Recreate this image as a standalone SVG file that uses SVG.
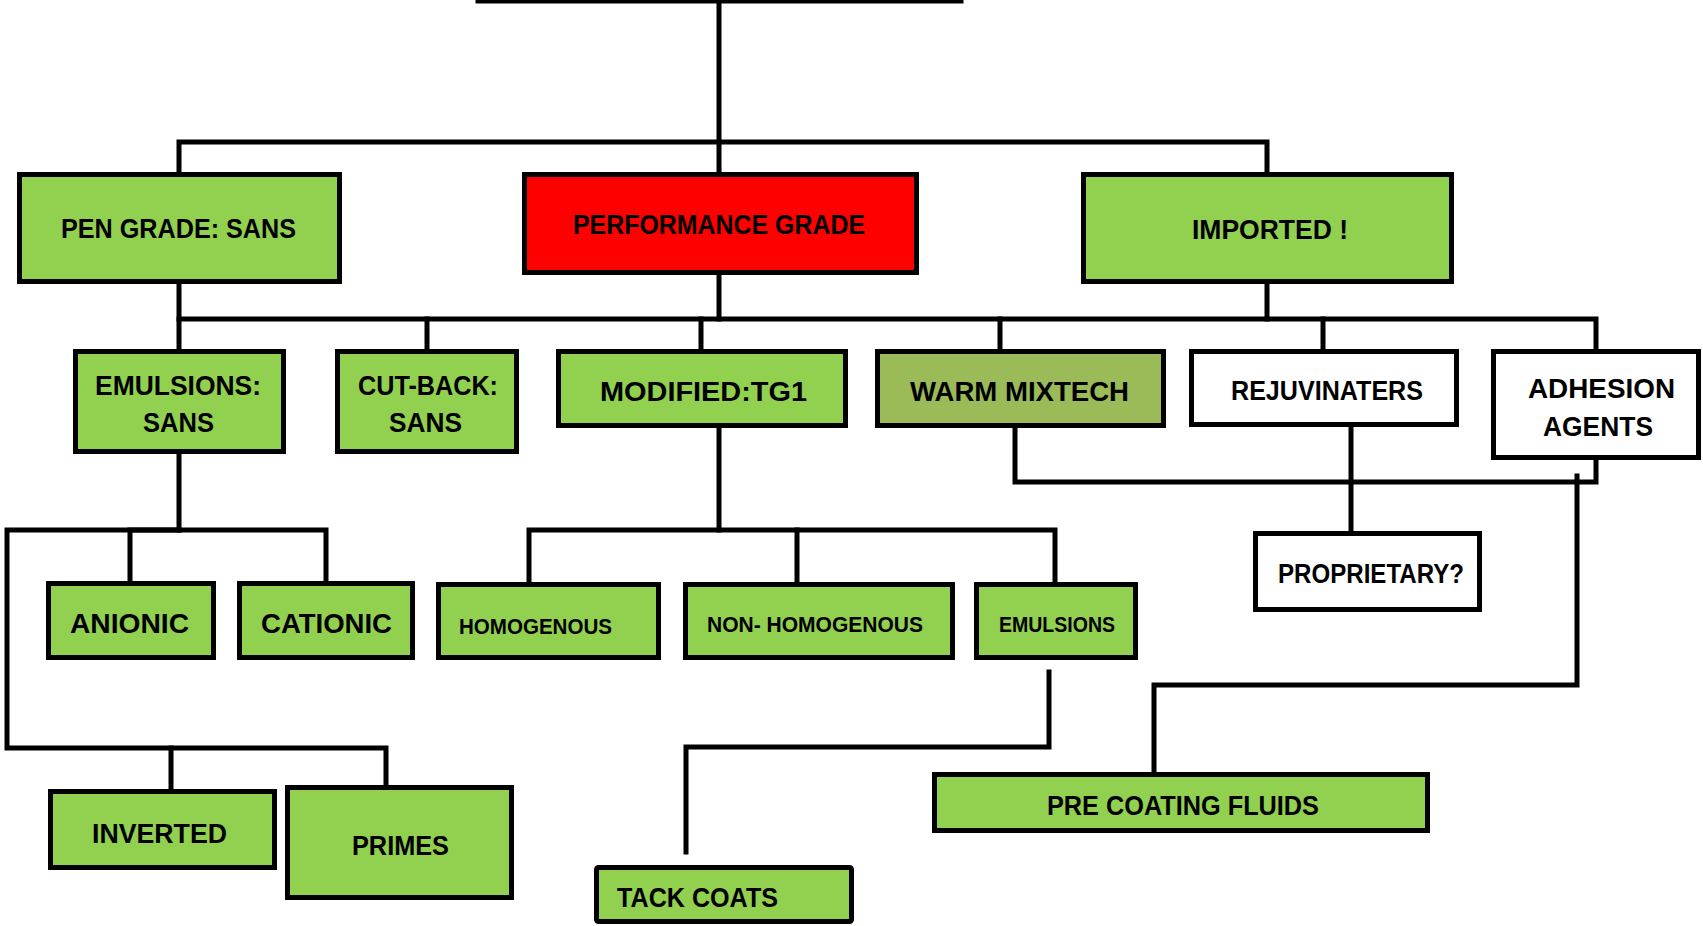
<svg xmlns="http://www.w3.org/2000/svg" width="1703" height="926" viewBox="0 0 1703 926">
<style>
.b{stroke:#000;stroke-width:5}
.g{fill:#92D050}
.r{fill:#FF0000}
.w{fill:#FFFFFF}
.o{fill:#9BBB59}
.t{font-family:"Liberation Sans",Arial,sans-serif;font-weight:bold;fill:#000;font-size:27px}
.s{font-size:22px}
.c{fill:none;stroke:#000;stroke-width:5;stroke-linecap:square}
</style>
<rect width="1703" height="926" fill="#fff"/>
<g id="connectors">
<path class="c" d="M478 1H961"/>
<path class="c" d="M719 1V172"/>
<path class="c" d="M179 172V142H1267V172"/>
<path class="c" d="M719 275V319"/>
<path class="c" d="M1267 284V319"/>
<path class="c" d="M179 284V349"/>
<path class="c" d="M179 319H1596V349"/>
<path class="c" d="M427 319V349"/>
<path class="c" d="M701 319V349"/>
<path class="c" d="M1000 319V349"/>
<path class="c" d="M1323 319V349"/>
<path class="c" d="M179 454V530"/>
<path class="c" d="M130 581V530H326V581"/>
<path class="c" d="M179 530H7V748H386V786"/>
<path class="c" d="M171 748V789"/>
<path class="c" d="M719 428V530"/>
<path class="c" d="M529 582V530H1055V582"/>
<path class="c" d="M797 530V582"/>
<path class="c" d="M1049 672V747H686V852"/>
<path class="c" d="M1015 428V482H1596V460"/>
<path class="c" d="M1351 427V531"/>
<path class="c" d="M1577 476V685H1154V772"/>
</g>
<g id="n-pen"><rect class="b g" x="19.5" y="174.5" width="320" height="107"/><text class="t" x="61" y="238" font-size="28" textLength="235" lengthAdjust="spacingAndGlyphs">PEN GRADE: SANS</text></g>
<g id="n-perf"><rect class="b r" x="524.5" y="174.5" width="392" height="98"/><text class="t" x="573" y="234" font-size="28" textLength="292" lengthAdjust="spacingAndGlyphs">PERFORMANCE GRADE</text></g>
<g id="n-imported"><rect class="b g" x="1083.5" y="174.5" width="368" height="107"/><text class="t" x="1192" y="239" font-size="28" textLength="156" lengthAdjust="spacingAndGlyphs">IMPORTED !</text></g>
<g id="n-emulsions-sans"><rect class="b g" x="75.5" y="351.5" width="208" height="100"/><text class="t" x="95" y="395" textLength="166" lengthAdjust="spacingAndGlyphs">EMULSIONS:</text><text class="t" x="143" y="432" textLength="71" lengthAdjust="spacingAndGlyphs">SANS</text></g>
<g id="n-cutback"><rect class="b g" x="337.5" y="351.5" width="179" height="100"/><text class="t" x="358" y="395" textLength="140" lengthAdjust="spacingAndGlyphs">CUT-BACK:</text><text class="t" x="389" y="432" textLength="73" lengthAdjust="spacingAndGlyphs">SANS</text></g>
<g id="n-modified"><rect class="b g" x="558.5" y="351.5" width="287" height="74"/><text class="t" x="600" y="401" textLength="207" lengthAdjust="spacingAndGlyphs">MODIFIED:TG1</text></g>
<g id="n-warm"><rect class="b o" x="877.5" y="351.5" width="286" height="74"/><text class="t" x="910" y="401" textLength="219" lengthAdjust="spacingAndGlyphs">WARM MIXTECH</text></g>
<g id="n-rejuv"><rect class="b w" x="1191.5" y="351.5" width="265" height="73"/><text class="t" x="1231" y="400" font-size="26" textLength="192" lengthAdjust="spacingAndGlyphs">REJUVINATERS</text></g>
<g id="n-adhesion"><rect class="b w" x="1493.5" y="351.5" width="205" height="106"/><text class="t" x="1528" y="398" textLength="147" lengthAdjust="spacingAndGlyphs">ADHESION</text><text class="t" x="1543" y="436" textLength="110" lengthAdjust="spacingAndGlyphs">AGENTS</text></g>
<g id="n-anionic"><rect class="b g" x="48.5" y="583.5" width="165" height="74"/><text class="t" x="70" y="633" textLength="119" lengthAdjust="spacingAndGlyphs">ANIONIC</text></g>
<g id="n-cationic"><rect class="b g" x="239.5" y="583.5" width="173" height="74"/><text class="t" x="261" y="633" textLength="131" lengthAdjust="spacingAndGlyphs">CATIONIC</text></g>
<g id="n-homog"><rect class="b g" x="438.5" y="584.5" width="220" height="73"/><text class="t s" x="459" y="634" textLength="153" lengthAdjust="spacingAndGlyphs">HOMOGENOUS</text></g>
<g id="n-nonhomog"><rect class="b g" x="685.5" y="584.5" width="267" height="73"/><text class="t s" x="707" y="632" font-size="23" textLength="216" lengthAdjust="spacingAndGlyphs">NON- HOMOGENOUS</text></g>
<g id="n-emulsions"><rect class="b g" x="976.5" y="584.5" width="159" height="73"/><text class="t s" x="999" y="632" font-size="23" textLength="116" lengthAdjust="spacingAndGlyphs">EMULSIONS</text></g>
<g id="n-proprietary"><rect class="b w" x="1255.5" y="533.5" width="224" height="76"/><text class="t" x="1278" y="583" font-size="26" textLength="186" lengthAdjust="spacingAndGlyphs">PROPRIETARY?</text></g>
<g id="n-inverted"><rect class="b g" x="50.5" y="791.5" width="224" height="76"/><text class="t" x="92" y="843" font-size="28" textLength="135" lengthAdjust="spacingAndGlyphs">INVERTED</text></g>
<g id="n-primes"><rect class="b g" x="287.5" y="787.5" width="224" height="110"/><text class="t" x="352" y="855" textLength="97" lengthAdjust="spacingAndGlyphs">PRIMES</text></g>
<g id="n-tack"><rect class="b g" x="596.5" y="867.5" width="255" height="54" rx="2"/><text class="t" x="617" y="907" textLength="161" lengthAdjust="spacingAndGlyphs">TACK COATS</text></g>
<g id="n-precoat"><rect class="b g" x="934.5" y="774.5" width="493" height="56"/><text class="t" x="1047" y="815" textLength="272" lengthAdjust="spacingAndGlyphs">PRE COATING FLUIDS</text></g>
</svg>
